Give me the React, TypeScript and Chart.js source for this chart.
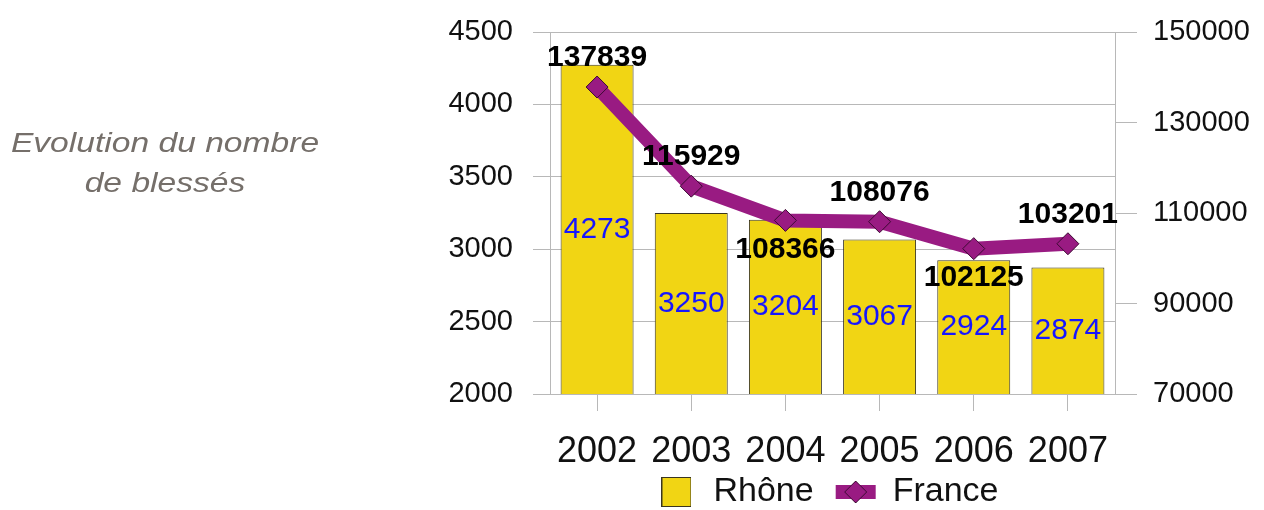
import React, { useEffect, useRef } from 'react';
import { Chart, registerables } from 'chart.js';

Chart.register(...registerables);

const categories = ['2002', '2003', '2004', '2005', '2006', '2007'];
const rhoneValues = [4273, 3250, 3204, 3067, 2924, 2874];
const franceValues = [137839, 115929, 108366, 108076, 102125, 103201];
const leftTickValues = [2000, 2500, 3000, 3500, 4000, 4500];
const rightTickValues = [70000, 90000, 110000, 130000, 150000];
const seriesNames = ['Rhône', 'France'];
const titleLines = ['Evolution du nombre', 'de blessés'];

const FONT = '"Liberation Sans", Arial, sans-serif';
const YELLOW = '#f1d514';
const BAR_BORDER = '#3a3520';
const PURPLE = '#991b82';
const MARKER_BORDER = '#3d0a33';
const GRID = '#b8b8b8';
const TEXT = '#111111';

function makeRhoneIcon() {
  const c = document.createElement('canvas');
  c.width = 30;
  c.height = 30;
  const g = c.getContext('2d')!;
  g.fillStyle = YELLOW;
  g.fillRect(0.5, 0.5, 29, 29);
  g.strokeStyle = BAR_BORDER;
  g.lineWidth = 1;
  g.strokeRect(0.5, 0.5, 29, 29);
  return c;
}

function makeFranceIcon() {
  const c = document.createElement('canvas');
  c.width = 42;
  c.height = 26;
  const g = c.getContext('2d')!;
  g.fillStyle = PURPLE;
  g.fillRect(1, 6, 40, 14);
  g.beginPath();
  g.moveTo(21, 2);
  g.lineTo(32, 13);
  g.lineTo(21, 24);
  g.lineTo(10, 13);
  g.closePath();
  g.fill();
  g.strokeStyle = MARKER_BORDER;
  g.lineWidth = 1;
  g.stroke();
  return c;
}

const valueLabels = {
  id: 'valueLabels',
  afterLayout(chart: any, _args: any, opts: any) {
    const lg = chart.legend;
    if (lg && opts.legendShift) {
      lg.top += opts.legendShift;
      lg.bottom += opts.legendShift;
    }
  },
  afterDatasetsDraw(chart: any, _args: any, opts: any) {
    const { ctx, chartArea } = chart;
    ctx.save();
    ctx.textAlign = 'center';
    ctx.textBaseline = 'middle';
    const bars = chart.getDatasetMeta(0).data;
    ctx.font = `30px ${FONT}`;
    ctx.fillStyle = '#1616ff';
    bars.forEach((bar: any, i: number) => {
      const p = bar.getProps(['x', 'y', 'base'], true);
      const bottom = Math.min(p.base, chartArea.bottom);
      const top = Math.max(p.y, chartArea.top);
      ctx.fillText(String(rhoneValues[i]), p.x, (top + bottom) / 2);
    });
    const pts = chart.getDatasetMeta(1).data;
    ctx.font = `bold 30px ${FONT}`;
    ctx.fillStyle = '#000000';
    pts.forEach((pt: any, i: number) => {
      const below = opts.sides[i] === 'below';
      ctx.fillText(String(franceValues[i]), pt.x, pt.y + (below ? opts.offset : -opts.offset));
    });
    ctx.restore();
  },
};

const plainNumber = (v: any) => String(v);

const fixWidth = (w: number) => (s: any) => {
  s.width = w;
  s.paddingTop = 18;
  s.paddingBottom = 18;
};

export default function App() {
  const canvasRef = useRef<HTMLCanvasElement | null>(null);

  useEffect(() => {
    if (!canvasRef.current) return;
    const rhoneIcon = makeRhoneIcon();
    const franceIcon = makeFranceIcon();
    const chart = new Chart(canvasRef.current, {
      type: 'bar',
      data: {
        labels: categories,
        datasets: [
          {
            type: 'bar',
            label: seriesNames[0],
            data: rhoneValues,
            yAxisID: 'y',
            backgroundColor: YELLOW,
            borderColor: BAR_BORDER,
            borderWidth: 1,
            borderSkipped: false,
            categoryPercentage: 1,
            barPercentage: 0.775,
            order: 1,
          } as any,
          {
            type: 'line',
            label: seriesNames[1],
            data: franceValues,
            yAxisID: 'y1',
            borderColor: PURPLE,
            backgroundColor: PURPLE,
            borderWidth: 14,
            tension: 0,
            pointStyle: 'rectRot',
            pointRadius: 11,
            pointBackgroundColor: PURPLE,
            pointBorderColor: MARKER_BORDER,
            pointBorderWidth: 1,
            order: 0,
          } as any,
        ],
      },
      options: {
        animation: false,
        responsive: false,
        events: [],
        layout: { padding: { left: 391, top: 32, right: 0, bottom: -18 } },
        scales: {
          x: {
            type: 'category',
            offset: true,
            afterFit: (s: any) => {
              s.height = 68;
            },
            grid: { offset: false, drawOnChartArea: false, color: GRID, tickLength: 17 },
            border: { display: true, color: GRID },
            ticks: {
              font: { family: FONT, size: 36 },
              color: TEXT,
              padding: 19,
              maxRotation: 0,
              autoSkip: false,
            },
          },
          y: {
            type: 'linear',
            position: 'left',
            min: leftTickValues[0],
            max: leftTickValues[leftTickValues.length - 1],
            afterBuildTicks: (s: any) => {
              s.ticks = leftTickValues.map((v) => ({ value: v }));
            },
            afterFit: fixWidth(159),
            grid: { color: GRID, tickLength: 17 },
            border: { display: true, color: GRID },
            ticks: { font: { family: FONT, size: 29 }, color: TEXT, padding: 20, callback: plainNumber },
          },
          y1: {
            type: 'linear',
            position: 'right',
            min: rightTickValues[0],
            max: rightTickValues[rightTickValues.length - 1],
            afterBuildTicks: (s: any) => {
              s.ticks = rightTickValues.map((v) => ({ value: v }));
            },
            afterFit: fixWidth(149),
            grid: { drawOnChartArea: false, color: GRID, tickLength: 22 },
            border: { display: true, color: GRID },
            ticks: { font: { family: FONT, size: 29 }, color: TEXT, padding: 16, callback: plainNumber },
          },
        },
        plugins: {
          tooltip: { enabled: false },
          title: { display: false },
          legend: {
            position: 'bottom',
            labels: {
              usePointStyle: true,
              pointStyleWidth: 40,
              boxHeight: 34,
              padding: 22,
              font: { family: FONT, size: 34 },
              color: TEXT,
              generateLabels: () => [
                {
                  text: seriesNames[0],
                  pointStyle: rhoneIcon,
                  fillStyle: YELLOW,
                  strokeStyle: BAR_BORDER,
                  lineWidth: 1,
                  hidden: false,
                  datasetIndex: 0,
                  fontColor: TEXT,
                },
                {
                  text: seriesNames[1],
                  pointStyle: franceIcon,
                  fillStyle: PURPLE,
                  strokeStyle: PURPLE,
                  lineWidth: 1,
                  hidden: false,
                  datasetIndex: 1,
                  fontColor: TEXT,
                },
              ],
            },
          },
          valueLabels: {
            sides: ['above', 'above', 'below', 'above', 'below', 'above'],
            offset: 29,
            legendShift: -9,
          },
        } as any,
      },
      plugins: [valueLabels as any],
    });
    return () => chart.destroy();
  }, []);

  return (
    <div
      style={{
        position: 'fixed',
        left: 0,
        top: 0,
        width: 1264,
        height: 510,
        background: '#ffffff',
        overflow: 'hidden',
      }}
    >
      <canvas
        ref={canvasRef}
        width={1264}
        height={510}
        style={{ position: 'absolute', left: 0, top: 0, width: 1264, height: 510 }}
      />
      <div
        style={{
          position: 'absolute',
          left: 0,
          top: 123,
          width: 330,
          textAlign: 'center',
          fontFamily: FONT,
          fontStyle: 'italic',
          fontSize: 28,
          lineHeight: '40px',
          color: '#756f6a',
          transform: 'scaleX(1.2)',
          transformOrigin: '165px 0',
          whiteSpace: 'nowrap',
        }}
      >
        {titleLines.map((line) => (
          <div key={line}>{line}</div>
        ))}
      </div>
    </div>
  );
}
